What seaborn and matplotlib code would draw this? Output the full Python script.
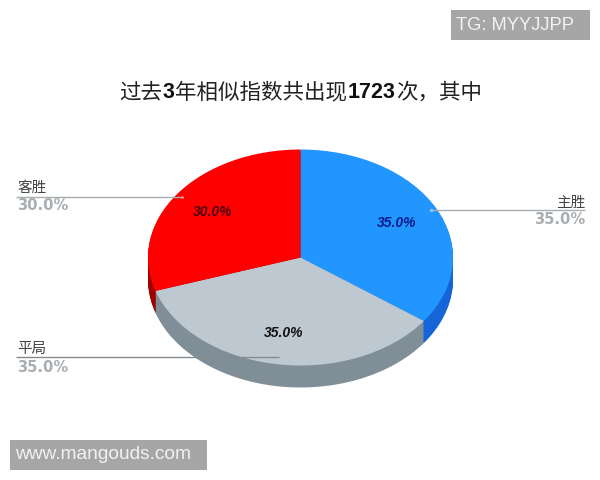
import matplotlib
matplotlib.use("Agg")
import matplotlib.pyplot as plt
import seaborn as sns
from matplotlib.patches import Rectangle

# data
slice_names = ["主胜", "平局", "客胜"]
slice_shares = [35.0, 35.0, 30.0]
top_colors = ["#2196fe", "#bdc8d1", "#fe0000"]
side_colors = ["#1565d8", "#808e98", "#9c0000"]
pct_colors = ["#0a1a8c", "#111111", "#4a0010"]

title_parts = ["过去", "3", "年相似指数共出现", "1723", "次，其中"]
top_tag = "TG: MYYJJPP"
bottom_tag = "www.mangouds.com"

CJK = "Noto Sans CJK SC"
LATIN = "Liberation Sans"

sns.set_theme(style="white")
plt.rcParams["font.family"] = [CJK, "DejaVu Sans"]

fig = plt.figure(figsize=(6, 4.8), dpi=100, facecolor="white")

# pie geometry in pixels
cx, cy, rx, ry, depth = 300.5, 257.5, 152.5, 108.0, 22

# pie axes: one data unit is rx across and ry down, so the circle becomes the tilted ellipse
ax = fig.add_axes([0, 0, 1, 1])

# seaborn's theme puts a white edge on patches, take it off
flat = {"linewidth": 0, "edgecolor": "none"}

# side wall: same pie repeated from the bottom upwards
for d in range(depth, 0, -1):
    ax.pie(slice_shares, colors=side_colors, startangle=90, counterclock=False,
           center=(0, -d / ry), radius=1, wedgeprops=flat)

wedges, _, autotexts = ax.pie(
    slice_shares, colors=top_colors, startangle=90, counterclock=False,
    autopct="%.1f%%", pctdistance=0.71, wedgeprops=flat,
    textprops={"family": LATIN, "weight": "bold", "style": "italic", "fontsize": 10},
)
for txt, col in zip(autotexts, pct_colors):
    txt.set_color(col)

ax.set_aspect("auto")
ax.set_xlim(-cx / rx, (600 - cx) / rx)
ax.set_ylim((cy - 480) / ry, cy / ry)
ax.axis("off")

# overlay in pixel coordinates for the callouts, title and tags
ov = fig.add_axes([0, 0, 1, 1], facecolor="none")
ov.set_xlim(0, 600)
ov.set_ylim(480, 0)
ov.axis("off")

value_font = dict(family="DejaVu Sans", weight="bold", fontsize=10.6, color="#a9aeb2", va="center")
name_font = dict(family=CJK, fontsize=10.5, color="#444444", va="center")

# leader lines and labels: (x0, x1, y, text x, name y, value y, align)
callouts = {
    "主胜": (431, 585, 210, 585, 203, 219, "right", "#a8adb0"),
    "平局": (16, 279, 357, 17, 349, 367, "left", "#858b90"),
    "客胜": (16, 183, 197, 17, 188, 205, "left", "#a8adb0"),
}
for name, share in zip(slice_names, slice_shares):
    x0, x1, y, tx, ny, vy, ha, lc = callouts[name]
    ov.plot([x0, x1], [y, y], color=lc, lw=1.0, solid_capstyle="butt")
    ov.text(tx, ny, name, ha=ha, **name_font)
    ov.text(tx, vy, f"{share:.1f}%", ha=ha, **value_font)
ov.plot([182], [197], "o", ms=2, color="#ff8a5c", mew=0)
ov.plot([431], [210], "o", ms=2.5, color="#8cc4fa", mew=0)

# title: CJK pieces regular, digits bold, laid end to end
renderer = fig.canvas.get_renderer()
x_cursor = 119.0
for i, part in enumerate(title_parts):
    if part.isdigit():
        t = ov.text(x_cursor, 92.5, part, family=LATIN, weight="bold", fontsize=15.5,
                    color="#111111", ha="left", va="center")
    else:
        t = ov.text(x_cursor, 92.5, part, family=CJK, fontsize=15.5,
                    color="#222222", ha="left", va="center")
    x_cursor += t.get_window_extent(renderer).width + 0.5

# watermark tags
ov.add_patch(Rectangle((451, 10), 139, 30, color="#a6a6a6", lw=0))
ov.text(456, 25.5, top_tag, family=LATIN, fontsize=13.2, color="#f2f2f2", ha="left", va="center")
ov.add_patch(Rectangle((10, 440), 197, 30, color="#a6a6a6", lw=0))
ov.text(15.5, 454.5, bottom_tag, family=LATIN, fontsize=13.8, color="#f2f2f2", ha="left", va="center")

fig.savefig("out.png", dpi=100)
plt.close(fig)
